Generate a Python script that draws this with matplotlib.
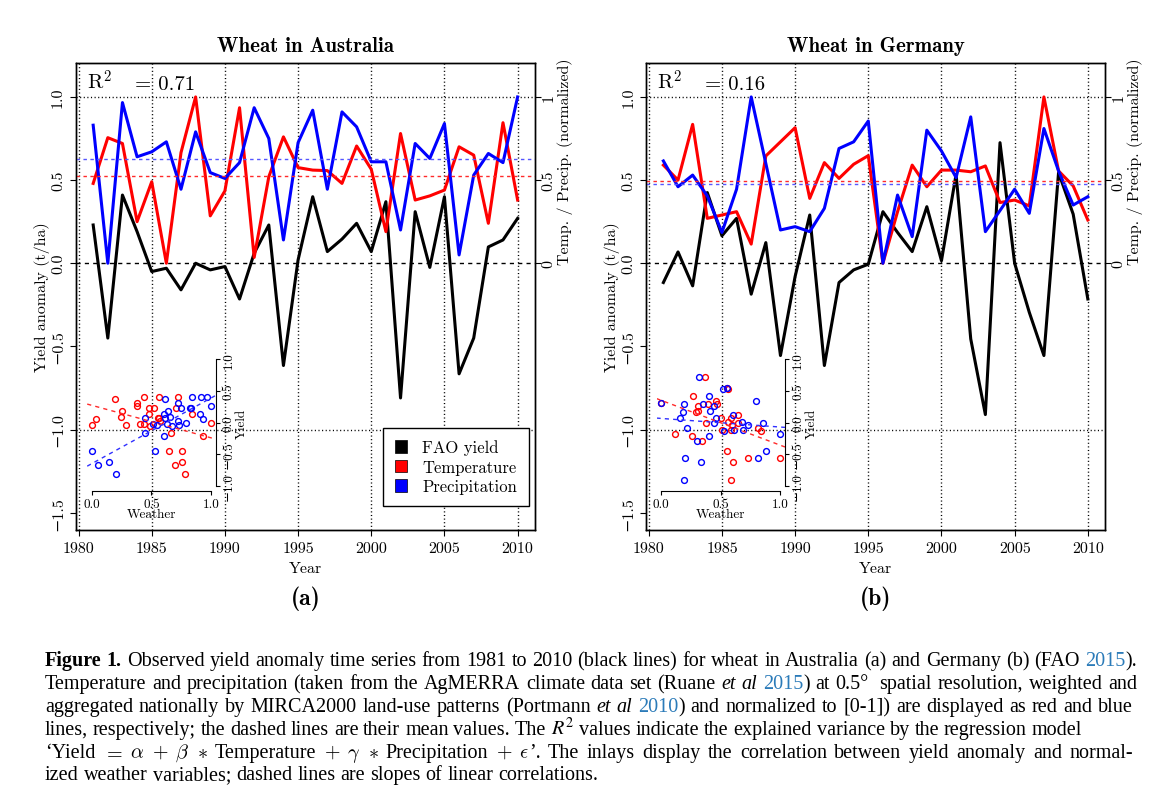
import re
import numpy as np
import matplotlib
matplotlib.use("Agg")
import matplotlib.pyplot as plt
from matplotlib.patches import Patch
from matplotlib.transforms import IdentityTransform

W, H = 1153, 803

years = np.arange(1981, 2011)

# Australia
aus_yield = [0.23, -0.45, 0.41, 0.19, -0.05, -0.03, -0.16, 0.00, -0.04, -0.02,
             -0.215, 0.06, 0.23, -0.615, 0.02, 0.40, 0.07, 0.145, 0.24, 0.07,
             0.37, -0.81, 0.31, -0.025, 0.40, -0.665, -0.45, 0.098, 0.14, 0.27]
aus_temp = [0.48, 0.755, 0.72, 0.25, 0.49, 0.0, 0.665, 1.0, 0.285, 0.435,
            0.935, 0.035, 0.52, 0.76, 0.575, 0.56, 0.557, 0.48, 0.705, 0.565,
            0.19, 0.78, 0.38, 0.405, 0.44, 0.70, 0.65, 0.24, 0.845, 0.38]
aus_prec = [0.83, 0.0, 0.966, 0.64, 0.67, 0.73, 0.445, 0.79, 0.545, 0.51,
            0.605, 0.935, 0.75, 0.14, 0.725, 0.92, 0.445, 0.91, 0.82, 0.61,
            0.61, 0.2, 0.72, 0.63, 0.84, 0.05, 0.53, 0.66, 0.605, 1.0]

# Germany
ger_yield = [-0.116, 0.068, -0.136, 0.425, 0.165, 0.27, -0.186, 0.124, -0.555, -0.08,
             0.29, -0.615, -0.116, -0.04, -0.006, 0.31, 0.185, 0.07, 0.34, 0.015,
             0.535, -0.455, -0.91, 0.725, 0.0, -0.295, -0.555, 0.545, 0.295, -0.215]
ger_temp = [0.59, 0.50, 0.835, 0.27, 0.29, 0.31, 0.115, 0.645, 0.73, 0.815,
            0.39, 0.605, 0.51, 0.595, 0.647, 0.0, 0.31, 0.59, 0.46, 0.56,
            0.56, 0.55, 0.585, 0.365, 0.38, 0.345, 1.0, 0.555, 0.465, 0.26]
ger_prec = [0.615, 0.46, 0.53, 0.405, 0.185, 0.445, 1.0, 0.6, 0.2, 0.22,
            0.19, 0.33, 0.69, 0.73, 0.855, 0.0, 0.41, 0.16, 0.80, 0.675,
            0.515, 0.88, 0.19, 0.317, 0.445, 0.30, 0.81, 0.555, 0.35, 0.40]

titles = ["Wheat in Australia", "Wheat in Germany"]
tags = ["(a)", "(b)"]
r2_values = ["0.71", "0.16"]
legend_labels = ["FAO yield", "Temperature", "Precipitation"]

year_ticks = [1980, 1985, 1990, 1995, 2000, 2005, 2010]
yield_ticks = [-1.5, -1.0, -0.5, 0.0, 0.5, 1.0]
yield_labels = ["\u22121.5", "\u22121.0", "\u22120.5", "0.0", "0.5", "1.0"]
norm_ticks = [0, 0.5, 1]
norm_labels = ["0", "0.5", "1"]
inset_xticks = [0, 0.5, 1]
inset_xlabels = ["0.0", "0.5", "1.0"]
inset_yticks = [-1, -0.5, 0, 0.5, 1]
inset_ylabels = ["\u22121.0", "\u22120.5", "0.0", "0.5", "1.0"]

caption_lines = [
    "{b|Figure} {b|1.} Observed yield anomaly time series from 1981 to 2010 (black lines) for wheat in Australia (a) and Germany (b) (FAO {c|2015}{n|).}",
    "Temperature and precipitation (taken from the AgMERRA climate data set (Ruane {i|et} {i|al} {c|2015}{n|)} at 0.5\u00b0  spatial resolution, weighted and",
    "aggregated nationally by MIRCA2000 land-use patterns (Portmann {i|et} {i|al} {c|2010}{n|)} and normalized to [0-1]) are displayed as red and blue",
    "lines, respectively; the dashed lines are their mean values. The {r|$R^2$} values indicate the explained variance by the regression model",
    "\u2018Yield {m|$=$} {m|$\\alpha$} {m|$+$} {m|$\\beta$} {m|$\\ast$} Temperature {m|$+$} {m|$\\gamma$} {m|$\\ast$} Precipitation {m|$+$} {m|$\\epsilon$}{n|\u2019.} The inlays display the correlation between yield anomaly and normal-",
    "ized weather variables; dashed lines are slopes of linear correlations.",
]

plt.rcParams["font.family"] = ["cmr10", "DejaVu Serif"]
plt.rcParams["mathtext.fontset"] = "cm"

fig = plt.figure(figsize=(W / 100, H / 100), dpi=100)


def box(x0, y0, x1, y1):
    return [x0 / W, 1 - y1 / H, (x1 - x0) / W, (y1 - y0) / H]


def ftext(x, y, s, **kw):
    return fig.text(x / W, 1 - y / H, s, **kw)


panels = [
    dict(yld=aus_yield, temp=aus_temp, prec=aus_prec, x0=76.2, ix0=87.2, legend=True),
    dict(yld=ger_yield, temp=ger_temp, prec=ger_prec, x0=646.4, ix0=656.5, legend=False),
]
AX_W = 458.4
TOP, BOT = 64.0, 531.0
dots = (0, (0.8, 1.8))

for k, p in enumerate(panels):
    x0 = p["x0"]
    x1 = x0 + AX_W
    xc = (x0 + x1) / 2
    ax = fig.add_axes(box(x0, TOP, x1, BOT))
    ax.set_xlim(1979.84, 2011.16)
    ax.set_ylim(-1.604, 1.204)
    for yr in year_ticks:
        ax.axvline(yr, color="black", lw=1.0, ls=dots, zorder=1)
    for h in (-1, 1):
        ax.axhline(h, color="black", lw=1.0, ls=dots, zorder=1)
    ax.axhline(0, color="black", lw=1.0, ls=(0, (3, 3)), zorder=1)

    ax.plot(years, p["yld"], color="black", lw=2.2, zorder=3)
    ax.plot(years, p["temp"], color="#ff0000", lw=2.2, zorder=3)
    ax.plot(years, p["prec"], color="#0000ff", lw=2.2, zorder=3)
    ax.axhline(np.mean(p["temp"]), color="#ff2a2a", lw=1.0, ls=(0, (2.5, 2.5)), zorder=4)
    ax.axhline(np.mean(p["prec"]), color="#5555ff", lw=1.0, ls=(0, (2.5, 2.5)), zorder=4)

    ax.set_xticks(year_ticks)
    ax.set_xticklabels([str(y) for y in year_ticks])
    ax.set_yticks(yield_ticks)
    ax.set_yticklabels(yield_labels, rotation=90, va="center")
    ax.tick_params(direction="out", length=4, width=0.8, labelsize=11.5, pad=4)
    for s in ax.spines.values():
        s.set_linewidth(1.0)

    ax2 = ax.twinx()
    ax2.set_ylim(ax.get_ylim())
    ax2.set_yticks(norm_ticks)
    ax2.set_yticklabels(norm_labels, rotation=90, va="center")
    ax2.tick_params(direction="out", length=4, width=0.8, labelsize=11.5, pad=1)
    for s in ax2.spines.values():
        s.set_linewidth(1.0)

    ftext(x0 - 34, (TOP + BOT) / 2, "Yield anomaly (t/ha)", rotation=90,
          ha="center", va="center", fontsize=11.5)
    ftext(x1 + 30, 162, "Temp. / Precip. (normalized)", rotation=90,
          ha="center", va="center", fontsize=11.5)
    ftext(xc, 569, "Year", ha="center", va="center", fontsize=11.5)
    ftext(xc, 599, tags[k], ha="center", va="center", family="cmb10", fontsize=17)
    ftext(xc, 46, titles[k], ha="center", va="center", family="cmb10", fontsize=15)
    ftext(x0 + 11, 90, r"$\mathrm{R}^2$", ha="left", va="baseline", fontsize=15)
    ftext(x0 + 59, 90, "= " + r2_values[k], ha="left", va="baseline", fontsize=15)

    if p["legend"]:
        handles = [Patch(facecolor=c, edgecolor="black", lw=0.5)
                   for c in ["black", "#ff0000", "#0000ff"]]
        leg = ax.legend(handles, legend_labels, loc="lower right",
                        bbox_to_anchor=((529 - x0) / AX_W, (BOT - 507) / (BOT - TOP)),
                        borderaxespad=0, fontsize=12, frameon=True, fancybox=False,
                        edgecolor="black", framealpha=1, handlelength=0.75,
                        handleheight=0.75, handletextpad=0.9, borderpad=0.7,
                        labelspacing=0.25)
        leg.get_frame().set_linewidth(1.0)

    # inlay: yield vs normalized weather
    ix0 = p["ix0"]
    ins = fig.add_axes(box(ix0, 355.4, ix0 + 128.5, 492.0))
    ins.set_facecolor("none")
    ins.set_xlim(-0.04, 1.04)
    ins.set_ylim(-1.08, 1.08)
    ins.plot(p["temp"], p["yld"], "o", mfc="none", mec="#ff0000", ms=4.2, mew=1.0)
    ins.plot(p["prec"], p["yld"], "o", mfc="none", mec="#0000ff", ms=4.2, mew=1.0)
    xs = np.array([-0.04, 1.04])
    for w, c in ((p["temp"], "#ff2a2a"), (p["prec"], "#3030ff")):
        b, a = np.polyfit(w, p["yld"], 1)
        ins.plot(xs, a + b * xs, color=c, lw=1.0, ls=(0, (3, 3)))
    ins.spines["top"].set_visible(False)
    ins.spines["left"].set_visible(False)
    ins.spines["bottom"].set_bounds(0, 1)
    ins.spines["right"].set_bounds(-1, 1)
    ins.yaxis.tick_right()
    ins.set_xticks(inset_xticks)
    ins.set_xticklabels(inset_xlabels)
    ins.set_yticks(inset_yticks)
    ins.set_yticklabels(inset_ylabels, rotation=90, va="center")
    ins.tick_params(direction="out", length=3, width=0.8, labelsize=9.5, pad=2)
    ftext(ix0 + 0.54 * 119, 515, "Weather", ha="center", va="center", fontsize=9.5)
    ftext(ix0 + 155, 424, "Yield", rotation=90, ha="center", va="center", fontsize=9.5)

# caption
cap_styles = {
    "n": dict(family="Liberation Serif"),
    "b": dict(family="Liberation Serif", weight="bold"),
    "i": dict(family="Liberation Serif", style="italic"),
    "c": dict(family="Liberation Serif", color="#2b7bb9"),
    "m": dict(family="Liberation Serif", math_fontfamily="cm"),
    "r": dict(family="Liberation Serif", math_fontfamily="stix"),
}
cap_left = 45
cap_ends = [1137, 1137, 1133, 1082, 1133, None]
cap_baselines = [666, 689, 712, 735, 758, 780]

rend = fig.canvas.get_renderer()
rows = []
for line in caption_lines:
    words = []
    for w in line.split(" "):
        arts = []
        for key, txt, plain in re.findall(r"\{(\w)\|([^}]*)\}|([^{]+)", w):
            if plain:
                key, txt = "n", plain
            arts.append(fig.text(0, 0, txt, transform=IdentityTransform(), ha="left",
                                 va="baseline", fontsize=10, **cap_styles[key]))
        words.append(arts)
    rows.append(words)


def word_widths(words):
    return [sum(a.get_window_extent(rend).width for a in arts) for arts in words]


ws0 = word_widths(rows[0])
nat0 = sum(ws0) + (len(ws0) - 1) * 0.25 * 10 * 100 / 72
size = 10 * (cap_ends[0] - cap_left) / nat0
for words in rows:
    for arts in words:
        for a in arts:
            a.set_fontsize(size)
space = 0.25 * size * 100 / 72

for i, words in enumerate(rows):
    ws = word_widths(words)
    if cap_ends[i] is None:
        gap = space
    else:
        gap = (cap_ends[i] - cap_left - sum(ws)) / (len(ws) - 1)
    x = cap_left
    yb = H - cap_baselines[i]
    for arts in words:
        for a in arts:
            a.set_position((x, yb))
            x += a.get_window_extent(rend).width
        x += gap

fig.savefig("out.png", dpi=100)
